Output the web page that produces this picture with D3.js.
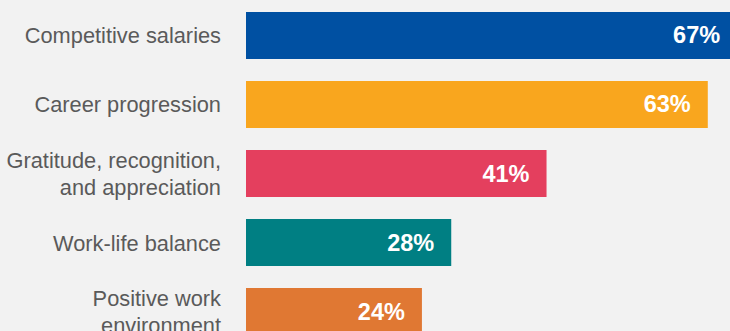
<!DOCTYPE html>
<html><head><meta charset="utf-8">
<script src="https://cdn.jsdelivr.net/npm/d3@7"></script>
<style>html,body{margin:0;padding:0;background:#f2f2f2;overflow:hidden}</style>
</head><body>
<svg id="c" width="730" height="331"></svg>
<script>
const categories = [["Competitive salaries"],["Career progression"],["Gratitude, recognition,","and appreciation"],["Work-life balance"],["Positive work","environment"]];
const values = [67, 63, 41, 28, 24];
const colors = ["#0050a2", "#f9a61e", "#e43f5e", "#007f83", "#e07833"];

const svg = d3.select("#c");
svg.append("rect").attr("width",730).attr("height",331).attr("fill","#f2f2f2");
const x = d3.scaleLinear().domain([0,100]).range([246, 979]);
const y = d3.scaleBand().domain(d3.range(values.length)).range([12, 335]).paddingInner(0.319).paddingOuter(0);

const g = svg.selectAll("g.bar").data(values).join("g").attr("class","bar");
g.append("rect")
  .attr("x", x(0)).attr("y", (d,i)=>y(i))
  .attr("width", d=>x(d)-x(0)).attr("height", y.bandwidth())
  .attr("fill", (d,i)=>colors[i]);
g.append("text")
  .attr("x", d=>x(d)-17).attr("y",(d,i)=>y(i)+y.bandwidth()/2+8)
  .attr("text-anchor","end").attr("fill","#fff")
  .attr("font-family","Liberation Sans, Arial, Helvetica, sans-serif")
  .attr("font-weight","bold").attr("font-size",23.5)
  .text(d=>d+"%");

const lab = svg.selectAll("text.lab").data(categories).join("text").attr("class","lab")
  .attr("text-anchor","end").attr("fill","#5a5a5a")
  .attr("font-family","Liberation Sans, Arial, Helvetica, sans-serif")
  .attr("font-size",21.8);
lab.each(function(lines,i){
  const t = d3.select(this);
  const base = y(i)+y.bandwidth()/2+8 - (lines.length-1)*13.5;
  lines.forEach((l,j)=>{
    t.append("tspan").attr("x",221).attr("y",base+j*27).text(l);
  });
});
</script>
</body></html>
